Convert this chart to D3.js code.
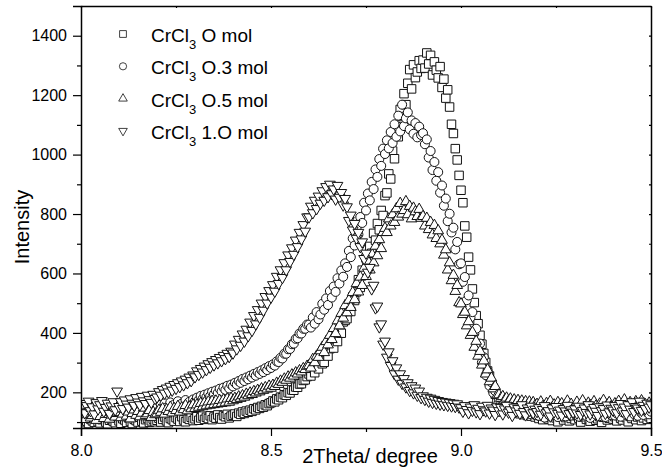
<!DOCTYPE html>
<html>
<head>
<meta charset="utf-8">
<script src="https://cdn.jsdelivr.net/npm/d3@7"></script>
<style>
  body { margin: 0; background: #fff; }
  svg { font-family: Arial, 'Liberation Sans', sans-serif; }
  .domain { stroke: #000; stroke-width: 1.5; }
  .tick line { stroke: #000; stroke-width: 1.2; }
</style>
</head>
<body>
<svg width="662" height="470"></svg>
<script>
// 2Theta grid of the scan: 8.0 .. 9.5, one reading every 0.005 deg
let thetaStart = 8.0;
let thetaStep = 0.005;

// Intensities, 20 readings (0.1 deg) per line
let int0mol = [
  108,98,112,103,95,110,104,99,115,101,97,108,112,100,94,106,110,102,98,113,
  104,96,111,107,99,114,102,95,109,105,100,116,103,97,108,112,99,104,110,101,
  106,113,100,109,117,104,98,112,108,103,115,110,102,118,107,101,113,109,116,105,
  111,118,106,114,120,109,116,112,121,108,117,113,124,115,110,122,118,126,114,120,
  123,127,119,130,126,134,129,137,133,140,136,145,141,149,146,153,150,158,155,162,
  165,171,168,178,175,184,182,192,190,199,198,208,207,218,217,228,229,240,242,253,
  262,255,281,266,290,279,308,296,301,336,322,347,360,349,385,371,410,399,437,442,
  448,489,472,521,509,538,579,553,611,596,652,628,691,668,735,712,768,747,812,795,
  862,871,935,918,1012,986,1094,1060,1152,1128,1205,1168,1240,1286,1221,1302,1259,1278,1316,1290,
  1318,1291,1342,1305,1334,1268,1312,1284,1258,1296,1226,1254,1190,1218,1160,1102,1071,1020,982,930,
  880,838,760,722,655,612,548,502,458,431,392,362,331,301,272,255,228,214,194,186,
  176,162,163,150,156,141,149,137,144,132,140,128,137,125,134,122,131,120,128,117,
  125,112,121,108,119,127,110,116,105,122,114,101,118,124,107,115,120,104,112,119,
  108,121,113,100,117,125,109,114,103,119,122,106,111,118,99,116,124,107,113,120,
  110,118,104,122,113,107,126,115,101,119,112,124,108,117,121,105,114,127,109,118,
  112
];

let int03mol = [
  142,128,151,120,137,160,125,133,148,118,139,155,127,144,131,119,150,136,126,158,
  134,149,122,157,138,128,152,141,124,160,135,146,129,153,139,121,148,162,133,145,
  150,138,158,144,163,149,141,166,152,159,147,170,156,162,151,174,160,168,157,176,
  170,182,174,188,178,192,184,197,188,202,194,206,198,212,203,216,208,222,213,226,
  220,232,226,238,232,245,238,250,244,256,250,262,256,268,262,274,268,281,275,288,
  282,294,290,304,302,316,314,330,330,345,346,362,364,380,382,398,398,414,414,428,
  428,418,452,431,470,446,462,498,478,516,494,541,519,556,538,584,566,610,589,634,
  622,676,655,718,694,752,731,790,770,838,812,869,846,908,884,950,925,985,962,1020,
  1002,1048,1021,1076,1039,1102,1060,1131,1078,1168,1096,1122,1142,1085,1115,1070,1106,1058,1094,1066,
  1072,1035,1051,990,1012,948,975,912,941,872,896,828,852,776,801,738,754,681,706,631,
  634,572,588,510,526,452,470,398,414,350,364,300,318,258,272,222,234,198,204,172,
  172,160,166,152,158,146,151,140,147,136,144,133,141,130,139,128,137,126,135,124,
  133,121,140,126,115,138,129,120,144,124,131,117,136,127,142,119,130,135,122,139,
  126,141,118,133,128,145,121,136,114,130,139,125,143,120,134,128,117,138,131,124,
  137,122,129,146,118,133,140,125,131,119,144,127,136,121,148,130,124,139,133,126,
  135
];

let int05mol = [
  118,131,109,125,140,114,122,135,106,128,119,143,112,126,133,110,124,138,117,129,
  132,115,127,144,120,134,111,129,141,123,136,118,130,147,122,128,139,116,133,125,
  128,140,133,145,127,142,136,150,131,146,139,153,134,148,142,156,138,151,145,158,
  146,158,150,163,152,165,155,168,157,170,159,171,161,173,163,175,165,178,167,180,
  172,180,176,185,180,189,184,194,189,198,193,203,198,207,202,212,207,216,211,221,
  214,224,220,231,227,238,234,245,241,252,248,259,255,266,262,273,269,280,277,288,
  290,282,311,300,322,318,340,352,334,371,360,392,378,415,398,441,424,466,450,492,
  468,510,486,536,512,566,538,588,560,618,590,642,612,666,636,692,660,714,684,738,
  752,738,784,760,798,772,818,790,836,800,812,842,798,826,784,820,808,792,816,786,
  792,760,786,748,772,730,762,718,744,700,712,662,680,612,636,576,594,540,560,502,
  498,462,470,424,438,392,402,352,372,322,338,292,306,262,276,236,248,212,220,190,
  192,180,186,174,181,170,178,166,175,163,173,161,171,159,169,158,168,157,166,156,
  160,145,168,152,141,163,155,170,148,158,143,166,151,162,139,157,171,149,160,146,
  153,167,144,159,172,150,141,164,156,147,169,154,138,161,150,173,145,158,166,152,
  148,162,155,170,143,158,175,151,146,166,157,140,169,153,161,172,147,159,150,164,
  156
];

let int10mol = [
  146,162,131,155,170,138,151,127,165,144,158,172,136,149,163,129,154,168,141,204,
  152,168,145,174,160,150,178,163,156,182,167,158,186,171,162,190,175,166,193,179,
  184,202,190,209,197,214,201,220,207,226,213,232,219,238,225,244,232,251,239,258,
  252,272,260,280,268,288,276,296,284,303,292,310,299,317,306,324,313,331,320,338,
  332,362,346,378,358,396,372,412,390,436,408,458,430,478,452,500,476,522,500,542,
  520,562,540,590,566,612,586,636,612,662,640,686,664,712,690,738,716,764,742,790,
  790,826,804,846,818,860,836,878,846,892,858,900,868,884,850,896,856,872,830,852,
  824,778,796,746,768,718,738,690,706,650,668,604,620,548,560,484,490,420,430,362,
  372,318,336,290,306,262,282,244,262,230,246,218,232,206,222,198,214,190,204,182,
  188,176,183,170,180,166,176,163,172,160,169,158,167,156,165,154,163,152,161,150,
  148,136,155,142,131,150,139,158,134,146,128,153,141,137,156,130,147,140,125,151,
  138,149,127,144,156,133,141,122,150,137,145,129,158,135,124,147,139,153,131,143,
  135,148,126,142,155,131,138,120,147,134,152,129,140,123,145,137,156,128,141,133,
  144,130,153,125,139,147,132,158,127,141,149,136,122,151,138,145,129,157,134,146,
  140,155,131,148,162,137,150,128,158,143,168,135,152,147,170,139,156,145,163,150,
  158
];

let seriesNames = ['O mol', 'O.3 mol', 'O.5 mol', '1.O mol'];
let xTicks = [8.0, 8.5, 9.0, 9.5];
let xMinorTicks = [8.25, 8.75, 9.25];
let yTicks = [200, 400, 600, 800, 1000, 1200, 1400];
let yMinorTicks = [100, 300, 500, 700, 900, 1100, 1300];

let svg = d3.select('svg');
let plotLeft = 81, plotRight = 651, plotTop = 6, plotBottom = 428;

let x = d3.scaleLinear().domain([8, 9.5]).range([plotLeft, plotRight]);
let y = d3.scaleLinear().domain([80, 1500]).range([plotBottom, plotTop]);

// marker shapes, one per series
let shapes = [
  d3.symbol().type(d3.symbolSquare).size(72)(),
  d3.symbol().type(d3.symbolCircle).size(64)(),
  d3.symbol().type(d3.symbolTriangle).size(50)(),
  d3.symbol().type(d3.symbolTriangle).size(50)()
];
let rot = [0, 0, 0, 180];

svg.append('clipPath').attr('id', 'plot')
  .append('rect')
  .attr('x', plotLeft).attr('y', plotTop)
  .attr('width', plotRight - plotLeft).attr('height', plotBottom - plotTop);

let allSeries = [int0mol, int03mol, int05mol, int10mol];
let pts = svg.append('g').attr('clip-path', 'url(#plot)');

allSeries.forEach((vals, s) => {
  pts.append('g')
    .selectAll('path')
    .data(vals)
    .enter().append('path')
      .attr('d', shapes[s])
      .attr('transform', (d, i) => 'translate(' + x(thetaStart + i * thetaStep) + ',' + y(d) + ')rotate(' + rot[s] + ')')
      .attr('fill', '#fff')
      .attr('stroke', '#111')
      .attr('stroke-width', 1);
});

// axes
svg.append('g')
  .attr('transform', 'translate(0,' + plotBottom + ')')
  .call(d3.axisBottom(x).tickValues(xTicks).tickSize(8).tickPadding(9).tickFormat(d3.format('.1f')))
  .call(g => g.selectAll('text').attr('font-size', 16).attr('fill', '#000').attr('font-family', null));

svg.append('g')
  .attr('transform', 'translate(0,' + plotBottom + ')')
  .call(d3.axisBottom(x).tickValues(xMinorTicks).tickSize(4).tickFormat(''))
  .call(g => g.select('.domain').remove());

svg.append('g')
  .attr('transform', 'translate(' + plotLeft + ',0)')
  .call(d3.axisLeft(y).tickValues(yTicks).tickSize(8).tickPadding(6).tickFormat(d3.format('d')))
  .call(g => g.selectAll('text').attr('font-size', 16).attr('fill', '#000').attr('font-family', null));

svg.append('g')
  .attr('transform', 'translate(' + plotLeft + ',0)')
  .call(d3.axisLeft(y).tickValues(yMinorTicks).tickSize(4).tickFormat(''))
  .call(g => g.select('.domain').remove());

// top and right frame with tiny inward ticks
svg.append('g')
  .attr('transform', 'translate(0,' + plotTop + ')')
  .call(d3.axisTop(x).tickValues(xTicks.concat(xMinorTicks)).tickSizeInner(-2).tickSizeOuter(0).tickFormat(''));

svg.append('g')
  .attr('transform', 'translate(' + plotRight + ',0)')
  .call(d3.axisRight(y).tickValues(yTicks.concat(yMinorTicks)).tickSizeInner(-2).tickSizeOuter(0).tickFormat(''));

// axis titles
svg.append('text')
  .attr('x', 370).attr('y', 463)
  .attr('text-anchor', 'middle')
  .attr('font-size', 20)
  .text('2Theta/ degree');

svg.append('text')
  .attr('transform', 'translate(29,227)rotate(-90)')
  .attr('text-anchor', 'middle')
  .attr('font-size', 20)
  .text('Intensity');

// legend
let legend = svg.append('g');
seriesNames.forEach((name, s) => {
  let ly = 34 + s * 32.3;
  legend.append('path')
    .attr('d', shapes[s])
    .attr('transform', 'translate(123,' + ly + ')rotate(' + rot[s] + ')scale(0.8)')
    .attr('fill', '#fff')
    .attr('stroke', '#111')
    .attr('stroke-width', 1);
  let t = legend.append('text')
    .attr('x', 151).attr('y', ly + 8)
    .attr('font-size', 19);
  t.append('tspan').text('CrCl');
  t.append('tspan').attr('font-size', 13).attr('dy', 7).text('3');
  t.append('tspan').attr('dy', -7).text(' ' + name);
});
</script>
</body>
</html>
